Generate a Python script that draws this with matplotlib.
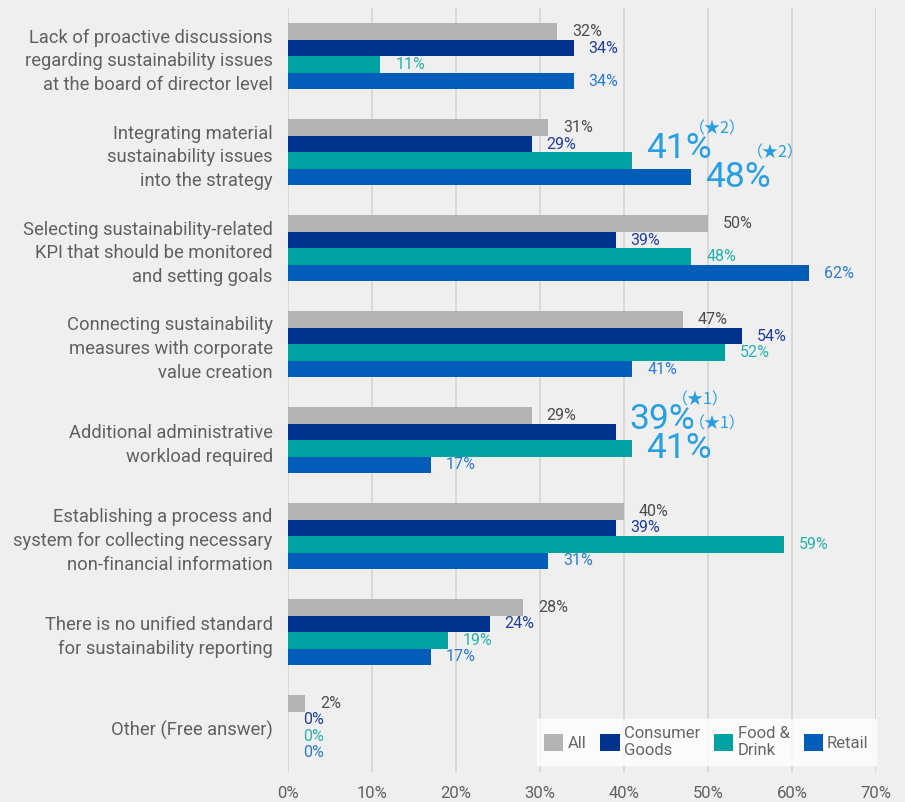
import matplotlib
matplotlib.use("Agg")
import matplotlib.pyplot as plt
import numpy as np

categories = [
    "Lack of proactive discussions\nregarding sustainability issues\nat the board of director level",
    "Integrating material\nsustainability issues\ninto the strategy",
    "Selecting sustainability-related\nKPI that should be monitored\nand setting goals",
    "Connecting sustainability\nmeasures with corporate\nvalue creation",
    "Additional administrative\nworkload required",
    "Establishing a process and\nsystem for collecting necessary\nnon-financial information",
    "There is no unified standard\nfor sustainability reporting",
    "Other (Free answer)",
]
series_names = ["All", "Consumer\nGoods", "Food &\nDrink", "Retail"]
all_vals = [32, 31, 50, 47, 29, 40, 28, 2]
consumer_vals = [34, 29, 39, 54, 39, 39, 24, 0]
food_vals = [11, 41, 48, 52, 41, 59, 19, 0]
retail_vals = [34, 48, 62, 41, 17, 31, 17, 0]
# highlighted labels: (series index, category index, note)
highlights = [(2, 1, "（★2）"), (3, 1, "（★2）"), (1, 4, "（★1）"), (2, 4, "（★1）")]
xticks = [0, 10, 20, 30, 40, 50, 60, 70]

bar_colors = ["#b3b3b3", "#00338d", "#00a3a1", "#005eb8"]
label_colors = ["#4d4d4d", "#1f3f99", "#26b3ad", "#2b7bd0"]
big_color = "#2a9fe0"
bg = "#efefef"

plt.rcParams["font.family"] = ["Roboto", "DejaVu Sans"]

fig = plt.figure(figsize=(9.05, 8.02), dpi=100, facecolor=bg)
ax = fig.add_axes([288 / 905, 30 / 802, (876 - 288) / 905, (794 - 30) / 802])
ax.set_facecolor(bg)

series = [all_vals, consumer_vals, food_vals, retail_vals]
h = 16.5 / 96
y = np.arange(len(categories))
hl = {(s, c): note for s, c, note in highlights}

for s, vals in enumerate(series):
    ys = y + (s - 1.5) * h
    ax.barh(ys, vals, height=h, color=bar_colors[s], label=series_names[s], zorder=3)
    for c, (v, yy) in enumerate(zip(vals, ys)):
        if (s, c) in hl:
            # upper of the two highlighted labels sits a bit higher
            upper = (s + 1, c) in hl
            up = 12 if upper else 0
            ax.annotate(f"{v}%", (v, yy), xytext=(14, up), textcoords="offset pixels",
                        ha="left", va="center", fontsize=25.5, color=big_color, zorder=4)
            ax.annotate(hl[(s, c)], (v, yy), xytext=(56, 32 if upper else 24),
                        textcoords="offset pixels", ha="left", va="center",
                        fontsize=11.5, color=big_color,
                        family=["Noto Sans CJK JP", "DejaVu Sans"], zorder=4)
        else:
            ax.annotate(f"{v}%", (v, yy), xytext=(15, 0), textcoords="offset pixels",
                        ha="left", va="center", fontsize=11.5, color=label_colors[s], zorder=4)

ax.set_xlim(0, 70)
ax.set_ylim(7 + 44 / 96, -0.505)
ax.set_xticks(xticks, [f"{t}%" for t in xticks])
ax.set_yticks(y, categories)
ax.tick_params(axis="y", length=0, pad=11, labelsize=13.2, labelcolor="#606060")
ax.tick_params(axis="x", length=0, pad=10, labelsize=12, labelcolor="#606060")
for t in ax.get_yticklabels():
    t.set_linespacing(1.4)
ax.grid(axis="x", color="#d6d6d6", linewidth=1.3, zorder=0)
for sp in ax.spines.values():
    sp.set_visible(False)

leg = ax.legend(loc="lower right", bbox_to_anchor=(1.0, 0.009), borderaxespad=0,
                ncol=4, frameon=True, fontsize=12, handlelength=1.15, handleheight=1.15,
                handletextpad=0.25, columnspacing=0.85, borderpad=0.45, fancybox=False,
                labelcolor="#666666")
leg.get_frame().set_facecolor("white")
leg.get_frame().set_edgecolor("white")
for t in leg.get_texts():
    t.set_linespacing(1.1)

fig.savefig("out.png", dpi=100, facecolor=bg)
